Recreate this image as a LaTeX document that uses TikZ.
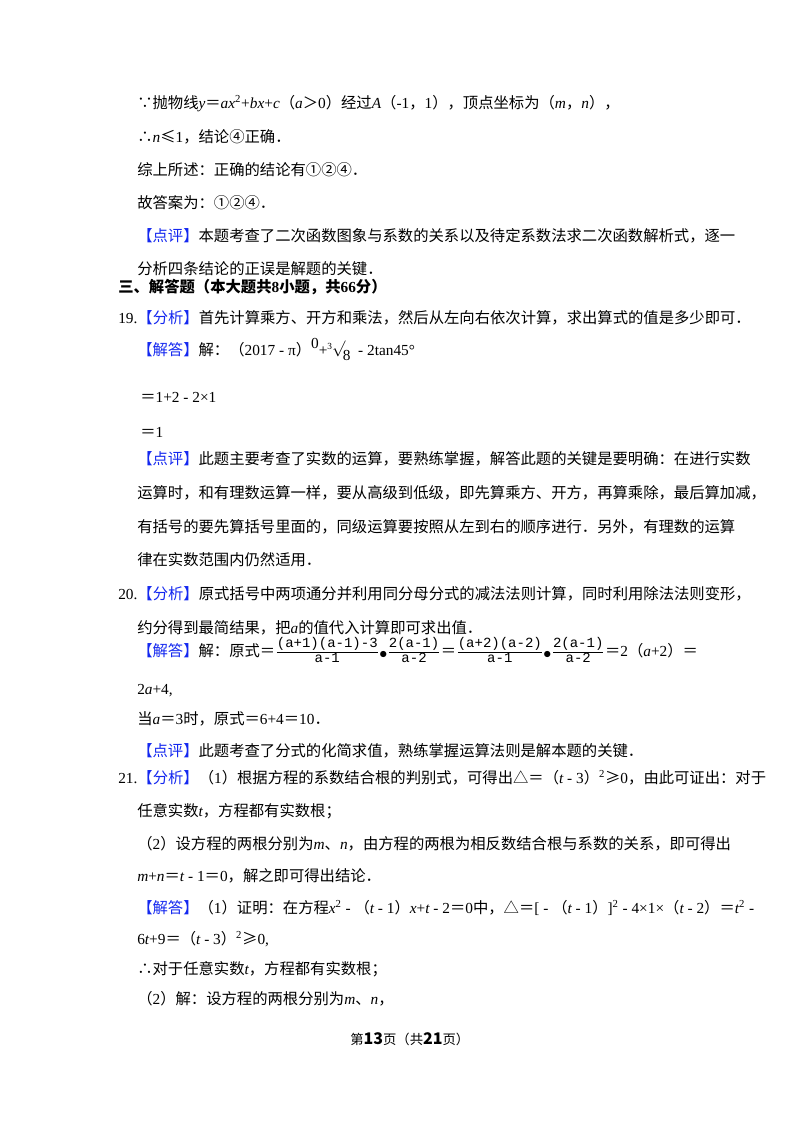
\documentclass[tikz,border=0pt]{standalone}
\usepackage{amsmath}
\usepackage{fontspec}
\setmainfont{Noto Sans CJK SC}
\newfontfamily\lt{Liberation Serif}
\newfontfamily\mo{Liberation Mono}
\definecolor{hb}{RGB}{20,40,240}
\newcommand{\Lt}[1]{{\lt #1}}
\newcommand{\It}[1]{{\lt\itshape #1}}
\newcommand{\Bk}[1]{{\color{hb}【#1】}}
\newcommand{\Fr}[2]{$\genfrac{}{}{0.6pt}{1}{\text{\mo\fontsize{10.5}{12}\selectfont #1}}{\text{\mo\fontsize{10.5}{12}\selectfont #2}}$}
\begin{document}
\begin{tikzpicture}[x=0.75pt,y=-0.75pt,
  t/.style={anchor=base west,inner sep=0pt,font=\fontsize{11.5}{14}\selectfont}]
\useasboundingbox[fill=white] (0,0) rectangle (800,1132);
\node[t] (l1) at (137,108) {∵抛物线\It{y}＝\It{ax}\Lt{\textsuperscript{2}+}\It{bx}\Lt{+}\It{c}（\It{a}＞\Lt{0}）经过\It{A}（\Lt{-1}，\Lt{1}），顶点坐标为（\It{m}，\It{n}），};
\node[t] (l2) at (137,142) {∴\It{n}≤\Lt{1}，结论④正确．};
\node[t] (l3) at (137,175) {综上所述：正确的结论有①②④．};
\node[t] (l4) at (137,208) {故答案为：①②④．};
\node[t] (l5) at (137,241) {\Bk{点评}本题考查了二次函数图象与系数的关系以及待定系数法求二次函数解析式，逐一};
\node[t] (l6) at (137,274) {分析四条结论的正误是解题的关键．};
\node[t] (l7) at (118,292) {\bfseries 三、解答题（本大题共\Lt{8}小题，共\Lt{66}分）};
\node[t] (l8) at (118,323) {\Lt{19.}\Bk{分析}首先计算乘方、开方和乘法，然后从左向右依次计算，求出算式的值是多少即可．};
\node[t] (l9) at (137,355) {\Bk{解答}解：（\Lt{2017 - π}）\Lt{\raisebox{5pt}{0}+\raisebox{4pt}{\scriptsize 3}$\sqrt{\vphantom{8}}$\!\raisebox{-4pt}{8}\ \ - 2tan45°}};
\node[t] (l10) at (140,402) {＝\Lt{1+2 - 2×1}};
\node[t] (l11) at (140,437) {＝\Lt{1}};
\node[t] (l12) at (137,464) {\Bk{点评}此题主要考查了实数的运算，要熟练掌握，解答此题的关键是要明确：在进行实数};
\node[t] (l13) at (137,498) {运算时，和有理数运算一样，要从高级到低级，即先算乘方、开方，再算乘除，最后算加减，};
\node[t] (l14) at (137,532) {有括号的要先算括号里面的，同级运算要按照从左到右的顺序进行．另外，有理数的运算};
\node[t] (l15) at (137,565) {律在实数范围内仍然适用．};
\node[t] (l16) at (118,599) {\Lt{20.}\Bk{分析}原式括号中两项通分并利用同分母分式的减法法则计算，同时利用除法法则变形，};
\node[t] (l17) at (137,633) {约分得到最简结果，把\It{a}的值代入计算即可求出值．};
\node[t] (l18) at (137,656) {\Bk{解答}解：原式＝\Fr{(a+1)(a-1)-3}{a-1}\raisebox{-2pt}{$\bullet$}\Fr{2(a-1)}{a-2}＝\Fr{(a+2)(a-2)}{a-1}\raisebox{-2pt}{$\bullet$}\Fr{2(a-1)}{a-2}＝\Lt{2}（\It{a}\Lt{+2}）＝};
\node[t] (l19) at (137,694) {\Lt{2}\It{a}\Lt{+4,}};
\node[t] (l20) at (137,724) {当\It{a}＝\Lt{3}时，原式＝\Lt{6+4}＝\Lt{10}．};
\node[t] (l21) at (137,756) {\Bk{点评}此题考查了分式的化简求值，熟练掌握运算法则是解本题的关键．};
\node[t] (l22) at (118,783) {\Lt{21.}\Bk{分析}（\Lt{1}）根据方程的系数结合根的判别式，可得出△＝（\It{t}\Lt{ - 3}）\Lt{\textsuperscript{2}}≥\Lt{0}，由此可证出：对于};
\node[t] (l23) at (137,816) {任意实数\It{t}，方程都有实数根；};
\node[t] (l24) at (137,849) {（\Lt{2}）设方程的两根分别为\It{m}、\It{n}，由方程的两根为相反数结合根与系数的关系，即可得出};
\node[t] (l25) at (137,881) {\It{m}\Lt{+}\It{n}＝\It{t}\Lt{ - 1}＝\Lt{0}，解之即可得出结论．};
\node[t] (l26) at (137,913) {\Bk{解答}（\Lt{1}）证明：在方程\It{x}\Lt{\textsuperscript{2} - }（\It{t}\Lt{ - 1}）\It{x}\Lt{+}\It{t}\Lt{ - 2}＝\Lt{0}中，△＝\Lt{[ - }（\It{t}\Lt{ - 1}）\Lt{]\textsuperscript{2} - 4×1×}（\It{t}\Lt{ - 2}）＝\It{t}\Lt{\textsuperscript{2} -}};
\node[t] (l27) at (137,944) {\Lt{6}\It{t}\Lt{+9}＝（\It{t}\Lt{ - 3}）\Lt{\textsuperscript{2}}≥\Lt{0,}};
\node[t] (l28) at (137,974) {∴对于任意实数\It{t}，方程都有实数根；};
\node[t] (l29) at (137,1004) {（\Lt{2}）解：设方程的两根分别为\It{m}、\It{n}，};
\node[t,font=\fontsize{10}{12}\selectfont] (ft) at (350,1044) {第{\bfseries\fontsize{12}{12}\selectfont 13}页（共{\bfseries\fontsize{12}{12}\selectfont 21}页）};
\end{tikzpicture}
\end{document}
